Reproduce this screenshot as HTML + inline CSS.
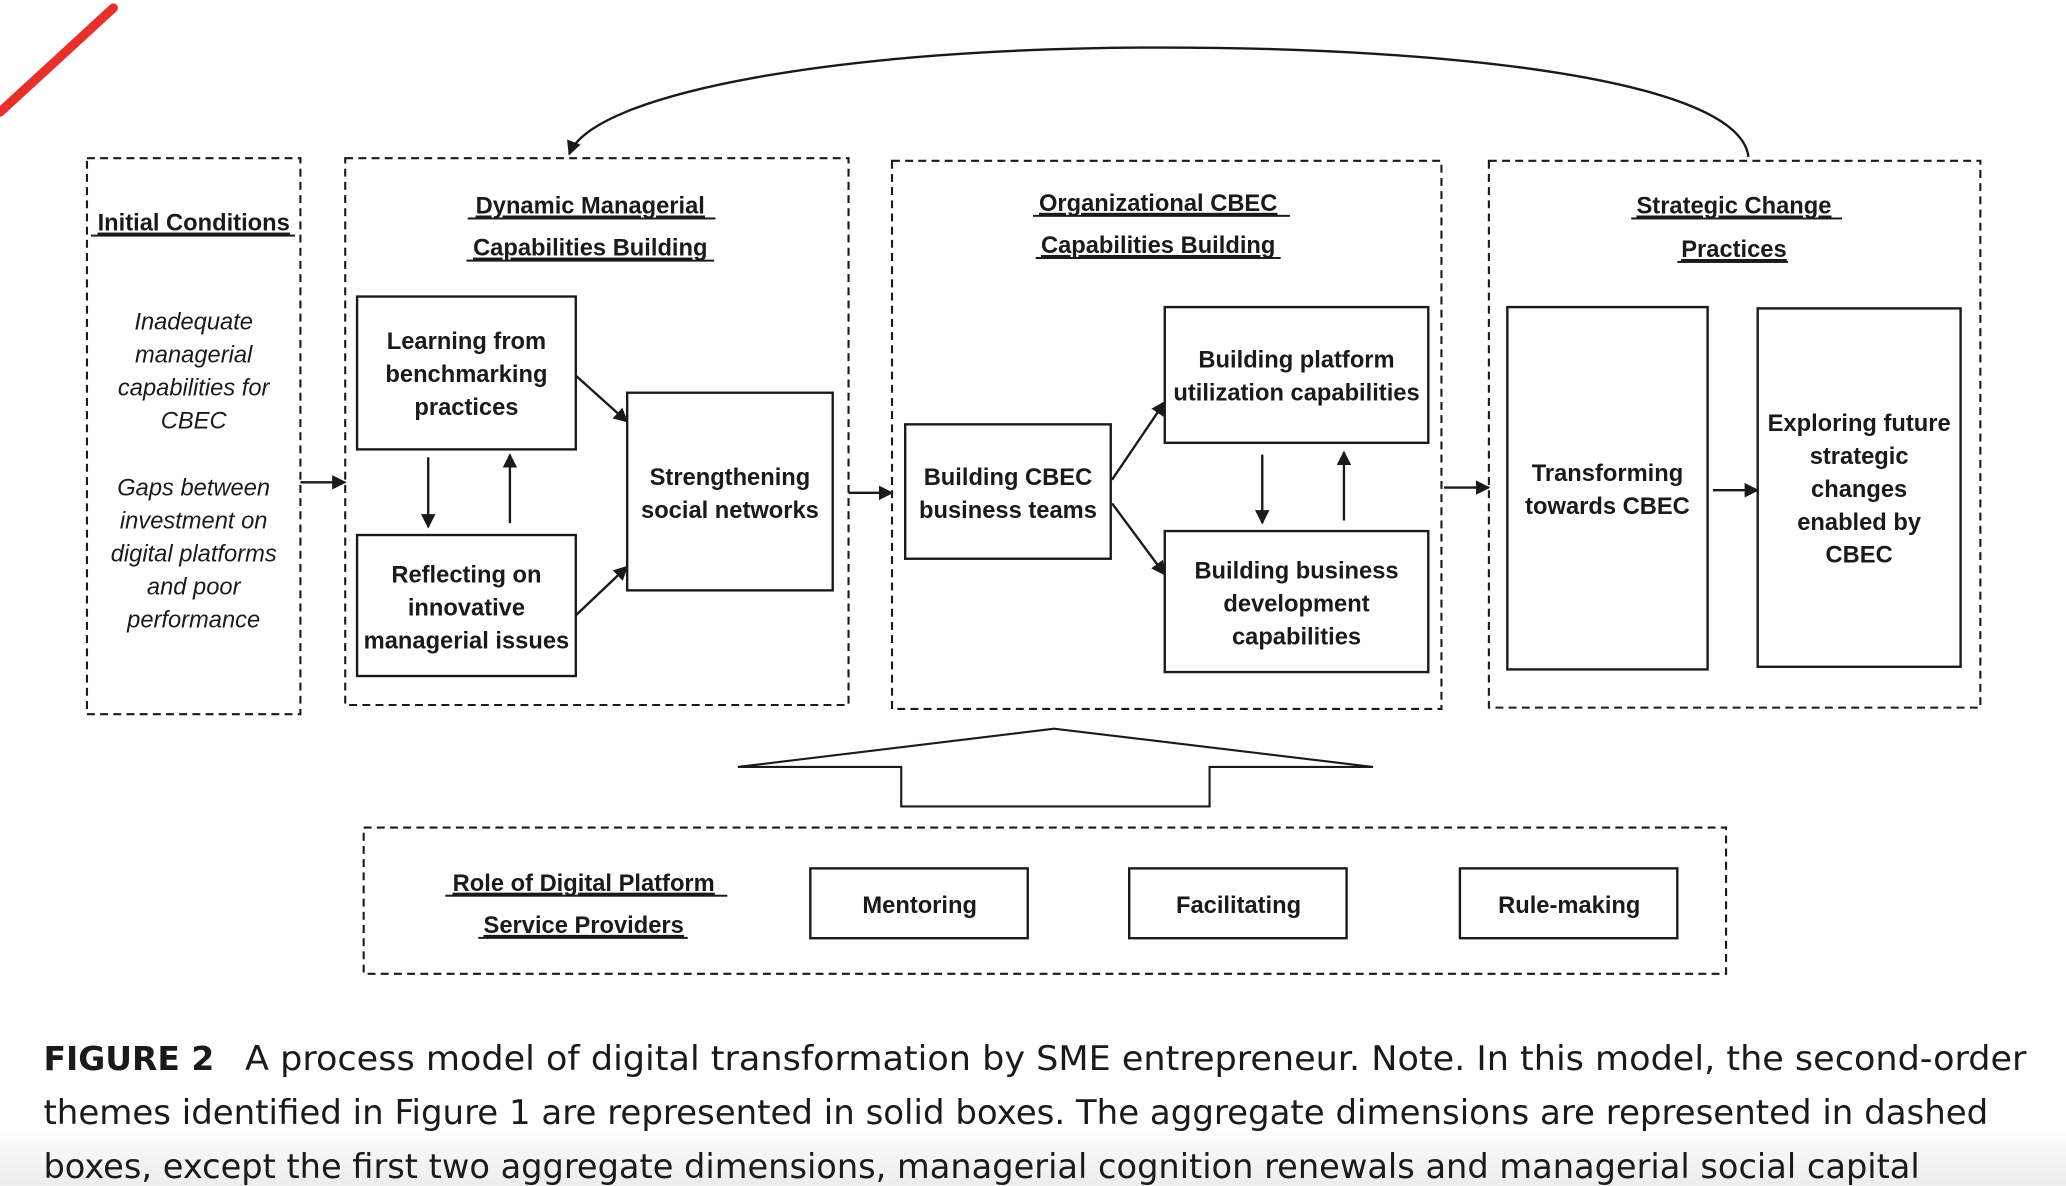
<!DOCTYPE html>
<html><head><meta charset="utf-8"><style>
html,body{margin:0;padding:0;background:#fff;}
svg{display:block;}
.b{font-family:"Liberation Sans",Arial,sans-serif;font-weight:bold;font-size:18px;fill:#1a1a1a;text-anchor:middle;}
.i{font-family:"Liberation Sans",Arial,sans-serif;font-style:italic;font-size:18px;fill:#1a1a1a;text-anchor:middle;}
.cap{font-family:"DejaVu Sans","Liberation Sans",sans-serif;font-size:26px;fill:#1a1a1a;}
</style></head><body>
<svg width="2066" height="1186" viewBox="0 0 1568 900" xmlns="http://www.w3.org/2000/svg">
<defs>
<linearGradient id="g" x1="0" y1="0" x2="0" y2="1"><stop offset="0" stop-color="#fff"/><stop offset="1" stop-color="#ececec"/></linearGradient>
<marker id="a" viewBox="0 0 10 10" refX="9" refY="5" markerWidth="11" markerHeight="11" markerUnits="userSpaceOnUse" orient="auto"><path d="M0,0 L10,5 L0,10 z" fill="#1a1a1a"/></marker>
</defs>
<rect x="0" y="855" width="1568" height="45" fill="url(#g)"/>
<path d="M0,85 L86,6" stroke="#e8302a" stroke-width="7" stroke-linecap="round" fill="none"/>
<g fill="none" stroke="#1a1a1a" stroke-width="1.6" stroke-dasharray="6,4">
<rect x="66" y="120" width="162" height="422"/>
<rect x="262" y="120" width="382" height="415"/>
<rect x="677" y="122" width="417" height="416"/>
<rect x="1130" y="122" width="373" height="415"/>
<rect x="276" y="628" width="1034" height="111"/>
</g>
<g fill="none" stroke="#1a1a1a" stroke-width="1.8">
<rect x="271" y="225" width="166" height="116"/>
<rect x="271" y="406" width="166" height="107"/>
<rect x="476" y="298" width="156" height="150"/>
<rect x="687" y="322" width="156" height="102"/>
<rect x="884" y="233" width="200" height="103"/>
<rect x="884" y="403" width="200" height="107"/>
<rect x="1144" y="233" width="152" height="275"/>
<rect x="1334" y="234" width="154" height="272"/>
<rect x="615" y="659" width="165" height="53"/>
<rect x="857" y="659" width="165" height="53"/>
<rect x="1108" y="659" width="165" height="53"/>
<path d="M560,582 L800,553 L1042,582 L918,582 L918,612 L684,612 L684,582 Z" stroke-width="1.6"/>
</g>
<g fill="none" stroke="#1a1a1a" stroke-width="1.8" marker-end="url(#a)">
<path d="M1327,119 C1320,60 1100,36 880,36 C640,36 450,70 432,117"/>
<line x1="228" y1="366" x2="262" y2="366"/>
<line x1="437" y1="285" x2="476" y2="320"/>
<line x1="437" y1="467" x2="476" y2="430"/>
<line x1="325" y1="347" x2="325" y2="400"/>
<line x1="387" y1="397" x2="387" y2="345"/>
<line x1="644" y1="374" x2="677" y2="374"/>
<line x1="844" y1="364" x2="884" y2="305"/>
<line x1="844" y1="382" x2="884" y2="436"/>
<line x1="958" y1="345" x2="958" y2="397"/>
<line x1="1020" y1="395" x2="1020" y2="343"/>
<line x1="1096" y1="370" x2="1130" y2="370"/>
<line x1="1300" y1="372" x2="1334" y2="372"/>
</g>
<g class="b" text-decoration="underline">
<text x="147" y="175" text-decoration="underline">Initial Conditions</text>
<text x="448" y="162" text-decoration="underline">Dynamic Managerial</text>
<text x="448" y="194" text-decoration="underline">Capabilities Building</text>
<text x="879" y="160" text-decoration="underline">Organizational CBEC</text>
<text x="879" y="192" text-decoration="underline">Capabilities Building</text>
<text x="1316" y="162" text-decoration="underline">Strategic Change</text>
<text x="1316" y="195" text-decoration="underline">Practices</text>
<text x="443" y="676" text-decoration="underline">Role of Digital Platform</text>
<text x="443" y="708" text-decoration="underline">Service Providers</text>
</g>
<g fill="#1a1a1a">
<rect x="69" y="178" width="155" height="1.5"/>
<rect x="355" y="165" width="188" height="1.5"/>
<rect x="354" y="197" width="188" height="1.5"/>
<rect x="784" y="163" width="195" height="1.5"/>
<rect x="786" y="195" width="186" height="1.5"/>
<rect x="1238" y="165" width="160" height="1.5"/>
<rect x="1273" y="198" width="84" height="1.5"/>
<rect x="338" y="679" width="214" height="1.5"/>
<rect x="363" y="711" width="159" height="1.5"/>
</g>
<g class="i">
<text x="147" y="250">Inadequate</text>
<text x="147" y="275">managerial</text>
<text x="147" y="300">capabilities for</text>
<text x="147" y="325">CBEC</text>
<text x="147" y="376">Gaps between</text>
<text x="147" y="401">investment on</text>
<text x="147" y="426">digital platforms</text>
<text x="147" y="451">and poor</text>
<text x="147" y="476">performance</text>
</g>
<g class="b">
<text x="354" y="265">Learning from</text>
<text x="354" y="290">benchmarking</text>
<text x="354" y="315">practices</text>
<text x="354" y="442">Reflecting on</text>
<text x="354" y="467">innovative</text>
<text x="354" y="492">managerial issues</text>
<text x="554" y="368">Strengthening</text>
<text x="554" y="393">social networks</text>
<text x="765" y="368">Building CBEC</text>
<text x="765" y="393">business teams</text>
<text x="984" y="279">Building platform</text>
<text x="984" y="304">utilization capabilities</text>
<text x="984" y="439">Building business</text>
<text x="984" y="464">development</text>
<text x="984" y="489">capabilities</text>
<text x="1220" y="365">Transforming</text>
<text x="1220" y="390">towards CBEC</text>
<text x="1411" y="327">Exploring future</text>
<text x="1411" y="352">strategic</text>
<text x="1411" y="377">changes</text>
<text x="1411" y="402">enabled by</text>
<text x="1411" y="427">CBEC</text>
<text x="698" y="693">Mentoring</text>
<text x="940" y="693">Facilitating</text>
<text x="1191" y="693">Rule-making</text>
</g>
<text class="cap" x="33" y="812"><tspan font-weight="bold" font-size="25">FIGURE 2</tspan></text>
<text class="cap" x="186" y="812" textLength="1352" lengthAdjust="spacingAndGlyphs">A process model of digital transformation by SME entrepreneur. Note. In this model, the second-order</text>
<text class="cap" x="33" y="853" textLength="1476" lengthAdjust="spacingAndGlyphs">themes identified in Figure 1 are represented in solid boxes. The aggregate dimensions are represented in dashed</text>
<text class="cap" x="33" y="894" textLength="1424" lengthAdjust="spacingAndGlyphs">boxes, except the first two aggregate dimensions, managerial cognition renewals and managerial social capital</text>
</svg>
</body></html>
